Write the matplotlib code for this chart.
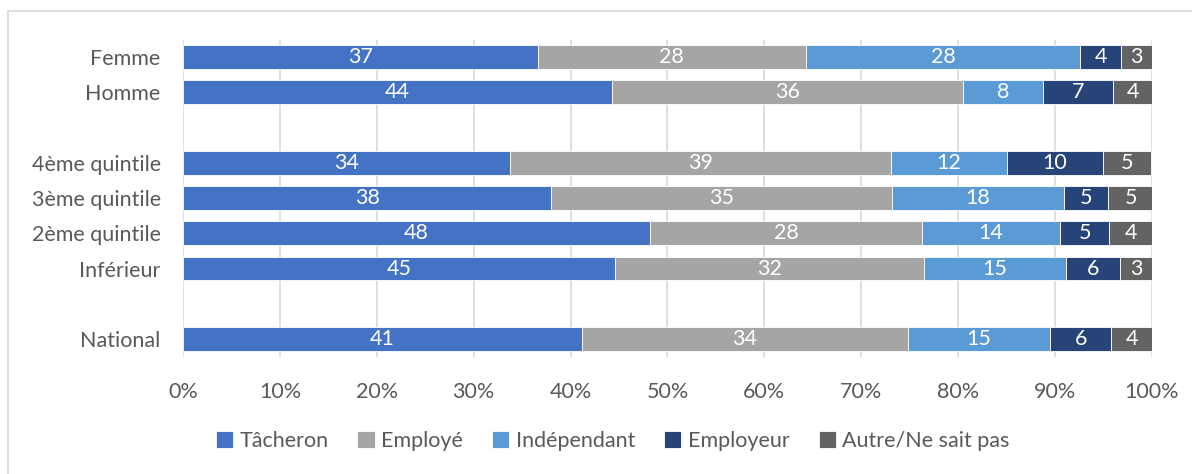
import numpy as np
import matplotlib.pyplot as plt
from matplotlib.patches import Rectangle

plt.rcParams['font.family'] = ['Lato', 'DejaVu Sans']

# row labels, top to bottom; empty strings are spacer rows
rows = ['Femme', 'Homme', '', '4ème quintile', '3ème quintile',
        '2ème quintile', 'Inférieur', '', 'National']

series = ['Tâcheron', 'Employé', 'Indépendant', 'Employeur', 'Autre/Ne sait pas']
colors = ['#4472C4', '#A5A5A5', '#5B9BD5', '#264478', '#636363']

# shares in % per row (None for spacer rows)
tacheron    = [36.6, 44.3, None, 33.7, 38.0, 48.2, 44.6, None, 41.2]
employe     = [27.7, 36.2, None, 39.4, 35.2, 28.1, 31.9, None, 33.6]
independant = [28.3, 8.3,  None, 11.9, 17.7, 14.2, 14.6, None, 14.7]
employeur   = [4.2,  7.2,  None, 10.0, 4.6,  5.1,  5.6,  None, 6.3]
autre       = [3.2,  4.0,  None, 4.9,  4.6,  4.4,  3.4,  None, 4.3]

data = [tacheron, employe, independant, employeur, autre]
fs = 15.5

fig = plt.figure(figsize=(11.92, 4.74), dpi=100)
ax = fig.add_axes([0.1535, 0.2468, 0.8129, 0.6688])

# chart border like the excel frame
fig.patches.append(Rectangle((8 / 1192, -0.1), 1.2, 1 - 11 / 474 + 0.1,
                             transform=fig.transFigure, fill=False,
                             edgecolor='#D9D9D9', linewidth=1.2))

idx = [i for i, r in enumerate(rows) if r != '']
left = np.zeros(len(idx))
for s, vals, c in zip(series, data, colors):
    v = np.array([vals[i] for i in idx])
    ax.barh(idx, v, left=left, height=0.68, color=c, label=s,
            edgecolor='white', linewidth=0.6, zorder=3)
    for y, l, w in zip(idx, left, v):
        ax.text(l + w / 2, y, f'{w:.0f}', ha='center', va='center',
                color='white', fontsize=fs, zorder=4)
    left += v

ax.set_xlim(0, 100)
ax.set_ylim(8.51, -0.48)
ax.set_xticks(np.arange(0, 101, 10))
ax.set_xticklabels([f'{t}%' for t in range(0, 101, 10)])
ax.set_yticks(idx)
ax.set_yticklabels([rows[i] for i in idx])
ax.tick_params(axis='both', length=0, labelsize=fs, labelcolor='#595959')
ax.tick_params(axis='x', pad=18)
ax.tick_params(axis='y', pad=16)
ax.grid(axis='x', color='#D9D9D9', linewidth=1.2, zorder=0)
for sp in ax.spines.values():
    sp.set_visible(False)

leg = fig.legend(loc='center', bbox_to_anchor=(0.514, 0.070), ncol=5,
                 frameon=False, fontsize=fs, handlelength=0.8,
                 handleheight=0.8, handletextpad=0.3, columnspacing=1.35)
for t in leg.get_texts():
    t.set_color('#595959')

fig.savefig('out.png', dpi=100)
